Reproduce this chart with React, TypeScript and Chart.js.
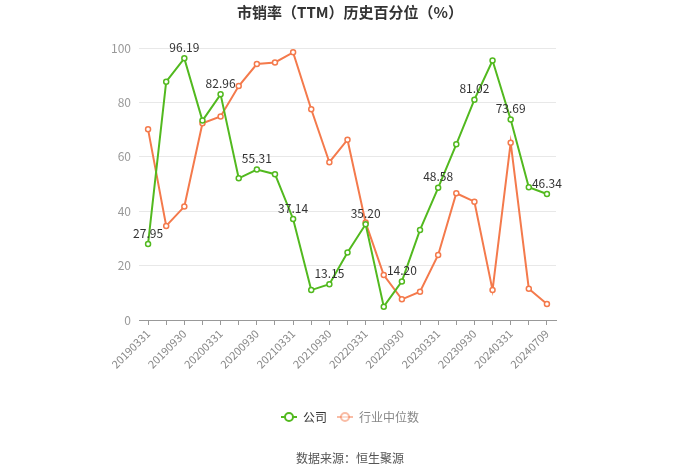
import React, { useEffect, useRef } from "react";
import { Chart, registerables } from "chart.js";

Chart.register(...registerables);

const categories = [
  "20190331", "20190630", "20190930", "20191231",
  "20200331", "20200630", "20200930", "20201231",
  "20210331", "20210630", "20210930", "20211231",
  "20220331", "20220630", "20220930", "20221231",
  "20230331", "20230630", "20230930", "20231231",
  "20240331", "20240630", "20240709",
];

const companyValues = [
  27.95, 87.6, 96.19, 73.3, 82.96, 52.1, 55.31, 53.6, 37.14, 11.0, 13.15, 24.8,
  35.2, 4.9, 14.2, 33.1, 48.58, 64.6, 81.02, 95.4, 73.69, 48.8, 46.34,
];

const industryValues = [
  70.1, 34.6, 41.7, 72.3, 74.8, 86.0, 94.1, 94.7, 98.4, 77.5, 58.0, 66.3,
  35.8, 16.5, 7.6, 10.4, 23.9, 46.6, 43.5, 11.0, 65.2, 11.5, 5.9,
];

const yTicks = [0, 20, 40, 60, 80, 100];

const seriesNames = ["公司", "行业中位数"];
const titleText = "市销率（TTM）历史百分位（%）";
const sourceText = "数据来源：恒生聚源";

const GREEN = "#52b91f";
const ORANGE = "#f47a4c";
const FONT = "'Noto Sans CJK SC', 'Open Sans', sans-serif";

const overlayPlugin = {
  id: "overlay",
  afterDatasetsDraw(chart: any) {
    const ctx = chart.ctx as CanvasRenderingContext2D;
    // data labels for company at even indices
    const meta = chart.getDatasetMeta(0);
    ctx.save();
    ctx.font = `12px ${FONT}`;
    ctx.fillStyle = "#333";
    ctx.textAlign = "center";
    ctx.textBaseline = "bottom";
    meta.data.forEach((pt: any, i: number) => {
      if (i % 2 !== 0) return;
      const v = companyValues[i];
      ctx.fillText(v.toFixed(2), pt.x, pt.y - 5);
    });
    ctx.restore();
  },
  afterDraw(chart: any) {
    const ctx = chart.ctx as CanvasRenderingContext2D;
    const W = chart.width;
    ctx.save();
    // title
    ctx.font = `bold 15px ${FONT}`;
    ctx.fillStyle = "#333";
    ctx.textAlign = "center";
    ctx.textBaseline = "middle";
    ctx.fillText(titleText, W / 2, 12);

    // legend
    ctx.font = `12px ${FONT}`;
    const items = [
      { name: seriesNames[0], color: GREEN, text: "#333", alpha: 1 },
      { name: seriesNames[1], color: ORANGE, text: "#888", alpha: 0.5 },
    ];
    const iconW = 16;
    const gap = 6;
    const itemGap = 10;
    let total = 0;
    const widths = items.map((it) => iconW + gap + ctx.measureText(it.name).width);
    widths.forEach((w) => (total += w));
    total += itemGap * (items.length - 1);
    let x = W / 2 - total / 2;
    const ly = 417;
    items.forEach((it, idx) => {
      ctx.globalAlpha = it.alpha;
      ctx.strokeStyle = it.color;
      ctx.lineWidth = 2;
      ctx.beginPath();
      ctx.moveTo(x, ly);
      ctx.lineTo(x + iconW, ly);
      ctx.stroke();
      ctx.beginPath();
      ctx.fillStyle = "#fff";
      ctx.arc(x + iconW / 2, ly, 4, 0, Math.PI * 2);
      ctx.fill();
      ctx.stroke();
      ctx.globalAlpha = 1;
      ctx.fillStyle = it.text;
      ctx.textAlign = "left";
      ctx.textBaseline = "middle";
      ctx.fillText(it.name, x + iconW + gap, ly);
      x += widths[idx] + itemGap;
    });

    // source
    ctx.font = `12px ${FONT}`;
    ctx.fillStyle = "#555";
    ctx.textAlign = "center";
    ctx.textBaseline = "middle";
    ctx.fillText(sourceText, W / 2, 458);
    ctx.restore();
  },
};

export default function App() {
  const ref = useRef<HTMLCanvasElement | null>(null);
  useEffect(() => {
    document.body.style.margin = "0";
    const canvas = ref.current!;
    const chart = new Chart(canvas, {
      type: "line",
      data: {
        labels: categories,
        datasets: [
          {
            label: seriesNames[0],
            data: companyValues,
            borderColor: GREEN,
            backgroundColor: "#fff",
            borderWidth: 2,
            pointRadius: 2.5,
            pointBorderWidth: 1.5,
            pointBackgroundColor: "#fff",
            pointBorderColor: GREEN,
            tension: 0,
          },
          {
            label: seriesNames[1],
            data: industryValues,
            borderColor: ORANGE,
            backgroundColor: "#fff",
            borderWidth: 2,
            pointRadius: 2.5,
            pointBorderWidth: 1.5,
            pointBackgroundColor: "#fff",
            pointBorderColor: ORANGE,
            tension: 0,
          },
        ],
      },
      options: {
        responsive: false,
        animation: false,
        devicePixelRatio: 1,
        layout: { padding: { left: 99, right: 144, top: 48, bottom: 94 } },
        plugins: {
          legend: { display: false },
          title: { display: false },
          tooltip: { enabled: false },
        },
        scales: {
          x: {
            offset: true,
            grid: {
              display: true,
              drawOnChartArea: false,
              drawTicks: true,
              tickLength: 5,
              color: "#999",
            },
            border: { display: true, color: "#999", width: 1 },
            ticks: {
              autoSkip: false,
              callback: (_v: any, i: number) => (i % 2 === 0 ? categories[i] : ""),
              minRotation: 45,
              maxRotation: 45,
              color: "#888",
              font: { size: 11, family: FONT },
              padding: 2,
            },
            afterFit: (s: any) => {
              s.height = 60;
            },
          },
          y: {
            min: 0,
            max: 100,
            afterBuildTicks: (s: any) => {
              s.ticks = yTicks.map((v) => ({ value: v }));
            },
            grid: { color: "#e8e8e8", drawTicks: false },
            border: { display: false },
            ticks: {
              color: "#999",
              font: { size: 12, family: FONT },
              padding: 8,
            },
            afterFit: (s: any) => {
              s.width = 40;
            },
          },
        },
      },
      plugins: [overlayPlugin],
    });
    return () => chart.destroy();
  }, []);
  return (
    <div style={{ width: 700, height: 474 }}>
      <canvas ref={ref} width={700} height={474} style={{ display: "block" }} />
    </div>
  );
}
